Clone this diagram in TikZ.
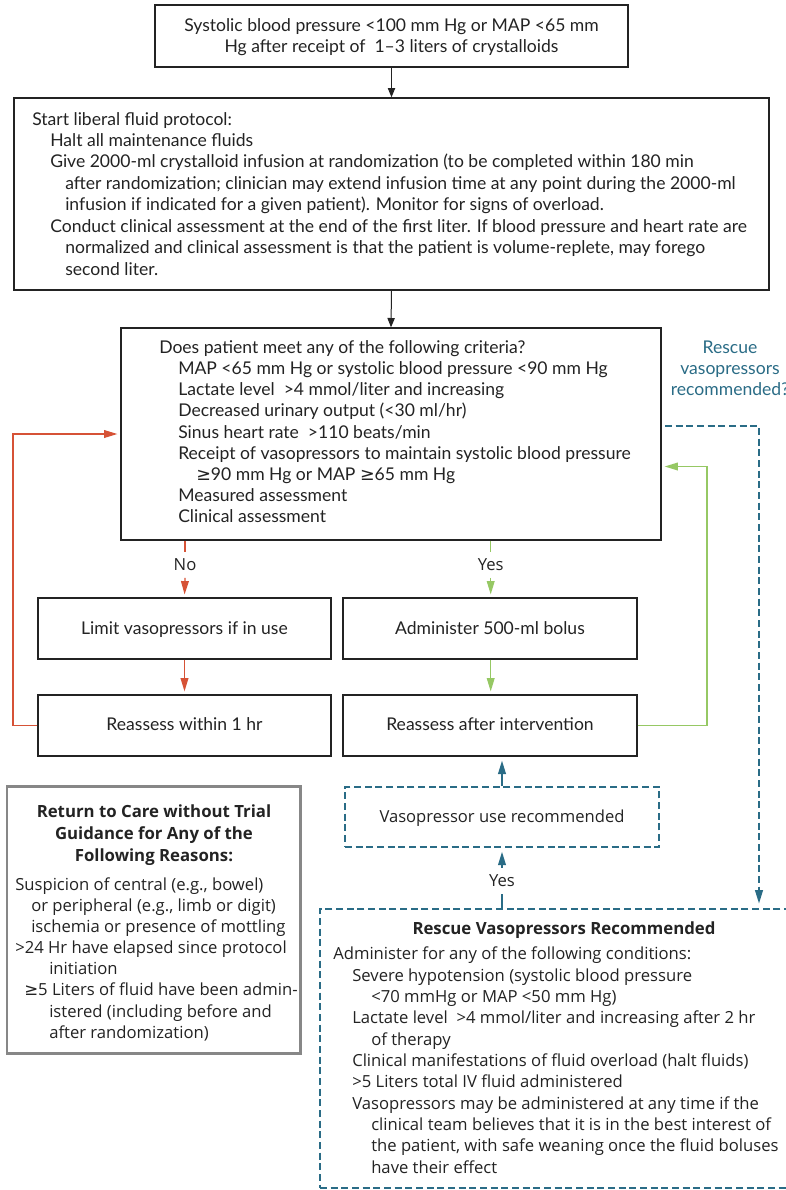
\documentclass[tikz,border=0pt]{standalone}
\usepackage{fontspec}
\setmainfont{Lato}
\newfontfamily\bfam{Open Sans}
\newfontfamily\symf{DejaVu Sans}
\usetikzlibrary{arrows.meta,fit}
\newlength\calw
\newcommand\calibfont[4]{\settowidth\calw{\normalfont#2\fontsize{10pt}{12pt}\selectfont #3}\pgfmathsetmacro#1{10*#4*0.75/\calw}\global\let#1#1}
\AtBeginDocument{%
\calibfont\fsTop{}{Does patient meet any of the following criteria?}{366}%
\calibfont\fsBot{\bfam}{Administer for any of the following conditions:}{358}%
\calibfont\fsBig{\bfam}{Vasopressor use recommended}{245}%
\calibfont\fsHead{\bfam\bfseries}{Rescue Vasopressors Recommended}{303}%
}
\newcommand\ftop[1][15.9]{\fontsize{\fsTop pt}{#1pt}\selectfont}
\newcommand\fbot[1][16]{\bfam\fontsize{\fsBot pt}{#1pt}\selectfont}
\newcommand\fbig{\bfam\fontsize{\fsBig pt}{16pt}\selectfont}
\newcommand\fhead[1][16.6]{\bfam\bfseries\fontsize{\fsHead pt}{#1pt}\selectfont}
\newcommand\gsym{{\symf ≥}}
\definecolor{tealc}{RGB}{42,108,134}
\definecolor{redc}{RGB}{214,82,54}
\definecolor{greenc}{RGB}{150,200,100}
\definecolor{grayb}{RGB}{135,135,135}
\definecolor{ink}{RGB}{35,35,35}
\tikzset{
  box/.style={draw=ink, line width=1pt, inner sep=0pt},
  graybox/.style={draw=grayb, line width=2pt, inner sep=0pt},
  tbox/.style={draw=tealc, line width=1.2pt, dash pattern=on 5.25pt off 2.75pt, inner sep=0pt},
  ctext/.style={inner sep=0pt, anchor=base, align=center, text=ink},
  ltext/.style={inner sep=0pt, anchor=base west, align=left, text=ink},
  labl/.style={inner sep=5pt, anchor=base, text=ink, font=\fbot},
  blk/.style={draw=ink, line width=0.75pt, -{Triangle[length=7pt,width=5.5pt]}},
  rarr/.style={draw=redc, line width=1pt, -{Triangle[length=10pt,width=5.8pt]}, shorten >=2.2pt},
  rline/.style={draw=redc, line width=1pt},
  garr/.style={draw=greenc, line width=1pt, -{Triangle[length=10pt,width=5.8pt]}, shorten >=2.2pt},
  gline/.style={draw=greenc, line width=1pt},
  tarr/.style={draw=tealc, line width=1.2pt, -{Triangle[length=10pt,width=5.8pt]}, shorten >=3pt},
  tline/.style={draw=tealc, line width=1.2pt},
  tdash/.style={draw=tealc, line width=1.2pt, dash pattern=on 5.25pt off 2.75pt, -{Triangle[length=10pt,width=5.8pt]}, shorten >=3.5pt, shorten <=2.5pt},
}
\begin{document}
\begin{tikzpicture}[x=0.75pt,y=-0.75pt]
\useasboundingbox (0,0) rectangle (786,1190);
\fill[white] (0,0) rectangle (786,1190);
\clip (0,0) rectangle (786,1190);

% boxes
\node[box, fit={(155,5)(628,67)}] (top) {};
\node[box, fit={(14,98)(769,290)}] (b2) {};
\node[box, fit={(121,328)(661,540)}] (box3) {};
\node[box, fit={(38,598)(331,659)}] (limit) {};
\node[box, fit={(343,598)(637,659)}] (admin) {};
\node[box, fit={(38,695)(331,756)}] (reA) {};
\node[box, fit={(343,695)(637,756)}] (reB) {};
\node[tbox, fit={(345,787)(659,847)}] (vaso) {};
\node[graybox, fit={(7,786.5)(300.5,1053.5)}] (ret) {};
\node[tbox, fit={(320,909)(800,1188)}] (resc) {};

% texts (multi-line nodes are placed by the baseline of their last line)
\node[ctext, font={\ftop[15.75]}] (topT) at (391.5,52) {Systolic blood pressure <100 mm Hg or MAP <65 mm\\Hg after receipt of~ 1–3 liters of crystalloids};

\node[ltext, font={\ftop[16.07]}] (b2T) at (32,275) {Start liberal fluid protocol:\\
\hspace*{13.5pt}Halt all maintenance fluids\\
\hspace*{13.5pt}Give 2000-ml crystalloid infusion at randomization (to be completed within 180 min\\
\hspace*{24.75pt}after randomization; clinician may extend infusion time at any point during the 2000-ml\\
\hspace*{24.75pt}infusion if indicated for a given patient). Monitor for signs of overload.\\
\hspace*{13.5pt}Conduct clinical assessment at the end of the first liter. If blood pressure and heart rate are\\
\hspace*{24.75pt}normalized and clinical assessment is that the patient is volume-replete, may forego\\
\hspace*{24.75pt}second liter.};

\node[ltext, font={\ftop[15.88]}] (box3T) at (159,522.7) {Does patient meet any of the following criteria?\\
\hspace*{14.25pt}MAP <65 mm Hg or systolic blood pressure <90 mm Hg\\
\hspace*{14.25pt}Lactate level~ >4 mmol/liter and increasing\\
\hspace*{14.25pt}Decreased urinary output (<30 ml/hr)\\
\hspace*{14.25pt}Sinus heart rate~ >110 beats/min\\
\hspace*{14.25pt}Receipt of vasopressors to maintain systolic blood pressure\\
\hspace*{27.75pt}\gsym90 mm Hg or MAP \gsym65 mm Hg\\
\hspace*{14.25pt}Measured assessment\\
\hspace*{14.25pt}Clinical assessment};

\node[ctext, font={\ftop[15.4]}, text=tealc] (rq) at (730,395) {Rescue\\vasopressors\\recommended?};

\node[ctext, font=\ftop] (limitT) at (184.5,634) {Limit vasopressors if in use};
\node[ctext, font=\ftop] (adminT) at (490,634) {Administer 500-ml bolus};
\node[ctext, font=\ftop] (reAT) at (184.5,730.5) {Reassess within 1 hr};
\node[ctext, font=\ftop] (reBT) at (490,730.5) {Reassess after intervention};
\node[ctext, font=\fbig] (vasoT) at (502,822.5) {Vasopressor use recommended};

\node[labl] (noL) at (185,570.7) {No};
\node[labl] (yesL) at (490.7,570.7) {Yes};
\node[labl] (yes2) at (502,886.7) {Yes};

\node[ctext, font={\fhead[16.65]}] (retH) at (154,861.7) {Return to Care without Trial\\Guidance for Any of the\\Following Reasons:};
\node[ltext, font={\fbot[15.89]}] (retT) at (15,1038.3) {Suspicion of central (e.g., bowel)\\
\hspace*{12pt}or peripheral (e.g., limb or digit)\\
\hspace*{12pt}ischemia or presence of mottling\\
>24 Hr have elapsed since protocol\\
\hspace*{25.5pt}initiation\\
\hspace*{6.75pt}\gsym5 Liters of fluid have been admin-\\
\hspace*{25.5pt}istered (including before and\\
\hspace*{25.5pt}after randomization)};

\node[ctext, font=\fhead] (rescH) at (564,934) {Rescue Vasopressors Recommended};
\node[ltext, font={\fbot[16]}] (rescT) at (333,1173.3) {Administer for any of the following conditions:\\
\hspace*{14.25pt}Severe hypotension (systolic blood pressure\\
\hspace*{28.5pt}<70 mmHg or MAP <50 mm Hg)\\
\hspace*{14.25pt}Lactate level~ >4 mmol/liter and increasing after 2 hr\\
\hspace*{28.5pt}of therapy\\
\hspace*{14.25pt}Clinical manifestations of fluid overload (halt fluids)\\
\hspace*{14.25pt}>5 Liters total IV fluid administered\\
\hspace*{14.25pt}Vasopressors may be administered at any time if the\\
\hspace*{28.5pt}clinical team believes that it is in the best interest of\\
\hspace*{28.5pt}the patient, with safe weaning once the fluid boluses\\
\hspace*{28.5pt}have their effect};

% loop coordinates
\coordinate (rl) at (13,434);
\coordinate (gl) at (707,466.5);
\coordinate (tl) at (759,426);

% connectors
\draw[blk] (top.south) -- (b2.north);
\draw[blk] (b2.south) -- (box3.north);
\draw[rline] (box3.south -| noL) -- (noL.north);
\draw[rarr] (noL.south) -- (limit.north);
\draw[rarr] (limit.south) -- (reA.north);
\draw[rarr] (reA.west) -| (rl) -- (box3.west |- rl);
\draw[gline] (box3.south -| yesL) -- (yesL.north);
\draw[garr] (yesL.south) -- (admin.north -| yesL);
\draw[garr] (admin.south -| yesL) -- (reB.north -| yesL);
\draw[garr] (reB.east) -| (gl) -- (box3.east |- gl);
\draw[tdash] (box3.east |- tl) -- (tl) -- (tl |- resc.north);
\draw[tline] (resc.north -| yes2) -- (yes2.south);
\draw[tarr] (yes2.north) -- (vaso.south -| yes2);
\draw[tarr] (vaso.north -| yes2) -- (reB.south -| yes2);
\end{tikzpicture}
\end{document}
